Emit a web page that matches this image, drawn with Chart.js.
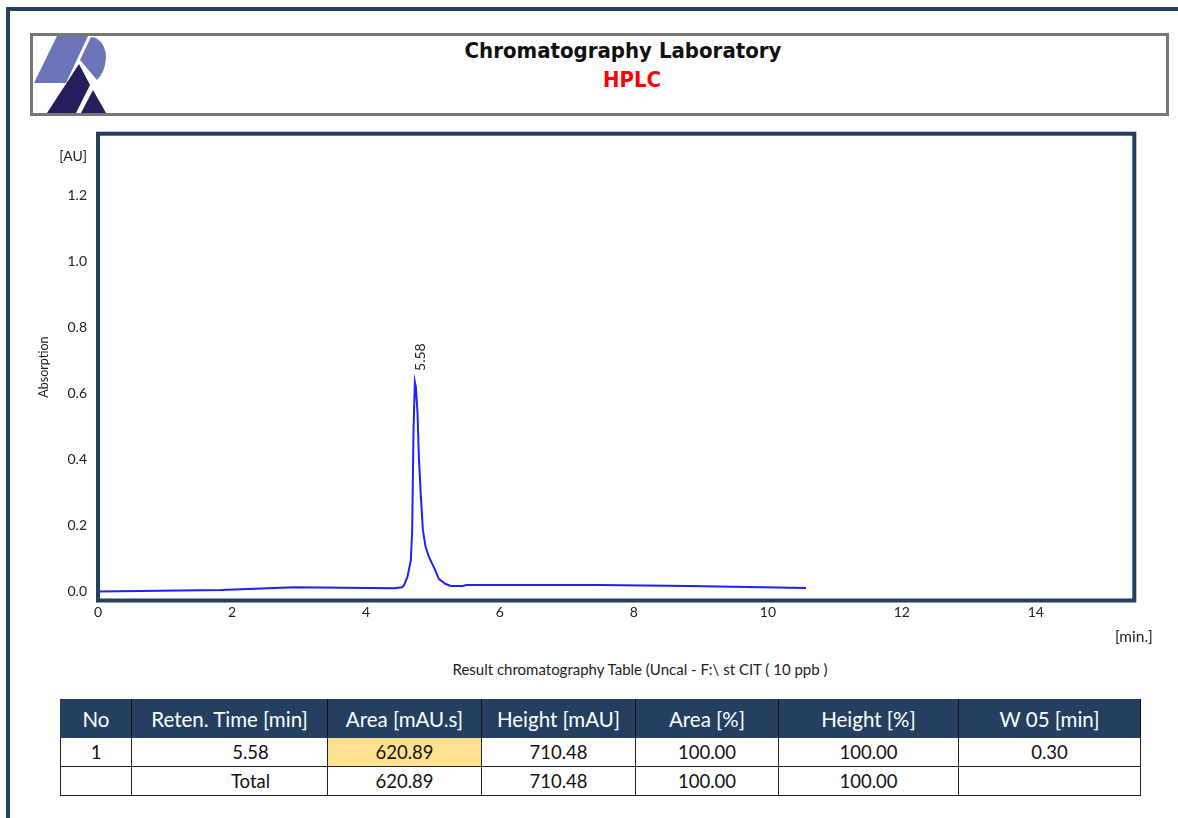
<!DOCTYPE html>
<html>
<head>
<meta charset="utf-8">
<script src="https://cdn.jsdelivr.net/npm/chart.js@4.4.1/dist/chart.umd.min.js"></script>
<style>
  html, body { margin: 0; padding: 0; background: #fff; width: 1178px; height: 818px; overflow: hidden; }
  .abs { position: absolute; }
  #outer { left: 6px; top: 7px; width: 1200px; height: 900px; border-top: 4px solid #243f60; border-left: 4px solid #243f60; }
  #head { left: 30px; top: 33px; width: 1133px; height: 77px; border: 3px solid #777; background: #fff; }
  #t1 { left: 300px; width: 646px; top: 38px; text-align: center; font: bold 22px "DejaVu Sans Condensed", "DejaVu Sans", sans-serif; font-stretch: condensed; color: #111; }
  #t2 { left: 300px; width: 664px; top: 67px; text-align: center; font: bold 22px "DejaVu Sans Condensed", "DejaVu Sans", sans-serif; font-stretch: condensed; color: #ff0000; }
  #wrap { left: 0; top: 120px; width: 1178px; height: 520px; }
  .lbl { font-family: Lato, "Open Sans", sans-serif; color: #222; }
  #au { right: 1091px; top: 147px; font-size: 14px; }
  #mins { left: 1115px; top: 627px; font-size: 15.5px; }
  #cap { left: 290px; width: 700px; top: 660px; text-align: center; font-size: 15px; }
  table { position: absolute; left: 60px; top: 699px; width: 1080px; table-layout: fixed; border-collapse: collapse; font-family: Lato, "Open Sans", sans-serif; }
  th { background: #243f60; color: #fff; font-weight: normal; font-size: 20.5px; height: 37px; border: 1px solid #243f60; border-right: 1px solid #111; padding: 0; white-space: nowrap; }
  td { font-size: 18.5px; color: #111; height: 28px; border: 1px solid #222; text-align: center; padding: 0; }
  td.hl { background: #fde18e; }
  td.rt { padding-left: 42px; }
</style>
</head>
<body>
<div id="outer" class="abs"></div>
<div id="head" class="abs"></div>
<svg class="abs" style="left:0;top:0" width="120" height="120">
  <polygon points="57,36 88,36 66,83 34,83" fill="#6b74b6"/>
  <path d="M91,37 L96,38 Q106,44 106,58 Q105,72 97,80 L80,60 Z" fill="#6b74b6"/>
  <polygon points="79,64 90,85 76,113 47,113" fill="#241f5c"/>
  <polygon points="93,90 106,113 81,113" fill="#241f5c"/>
</svg>
<div id="t1" class="abs">Chromatography Laboratory</div>
<div id="t2" class="abs">HPLC</div>
<div id="wrap" class="abs"><canvas id="c" width="1178" height="520"></canvas></div>
<div id="au" class="abs lbl">[AU]</div>
<div id="mins" class="abs lbl">[min.]</div>
<div id="cap" class="abs lbl">Result chromatography Table (Uncal - F:\ st CIT ( 10 ppb )</div>
<table id="tbl"></table>
<script>
// ---- chromatogram data ----
const timeMin = [0.00, 1.84, 2.93, 4.42, 4.54, 4.57, 4.62, 4.67, 4.69, 4.71, 4.73, 4.745, 4.77, 4.79, 4.82, 4.85, 4.89, 4.94, 5.02, 5.09, 5.19, 5.27, 5.44, 5.50, 7.48, 8.83, 10.57];
const absorbanceAU = [0.000, 0.005, 0.013, 0.010, 0.013, 0.020, 0.045, 0.095, 0.186, 0.489, 0.635, 0.620, 0.541, 0.408, 0.287, 0.186, 0.136, 0.105, 0.071, 0.038, 0.023, 0.017, 0.017, 0.020, 0.020, 0.017, 0.011];
const xTickValues = [0, 2, 4, 6, 8, 10, 12, 14];
const yTickValues = [0, 0.2, 0.4, 0.6, 0.8, 1.0, 1.2];
const peakLabels = ['5.58'];

// ---- result table data ----
const tableHeaders = ['No', 'Reten. Time [min]', 'Area [mAU.s]', 'Height [mAU]', 'Area [%]', 'Height [%]', 'W 05 [min]'];
const row1 = ['1', '5.58', '620.89', '710.48', '100.00', '100.00', '0.30'];
const rowTotal = ['', 'Total', '620.89', '710.48', '100.00', '100.00', ''];
const colWidths = [71, 196, 154, 154, 143, 180, 182];

// build table
const tbl = document.getElementById('tbl');
let html = '<colgroup>' + colWidths.map(w => `<col style="width:${w}px">`).join('') + '</colgroup>';
html += '<tr>' + tableHeaders.map(h => `<th>${h}</th>`).join('') + '</tr>';
html += '<tr>' + row1.map((v, i) => `<td class="${i === 2 ? 'hl' : ''}${i === 1 ? ' rt' : ''}">${v}</td>`).join('') + '</tr>';
html += '<tr>' + rowTotal.map((v, i) => `<td class="${i === 1 ? 'rt' : ''}">${v}</td>`).join('') + '</tr>';
tbl.innerHTML = html;

const points = timeMin.map((t, i) => ({ x: t, y: absorbanceAU[i] }));

const framePlugin = {
  id: 'frame',
  afterDraw(chart) {
    const { ctx, chartArea: a } = chart;
    ctx.save();
    ctx.strokeStyle = '#243f60';
    ctx.lineWidth = 4;
    ctx.strokeRect(a.left, a.top, a.right - a.left, a.bottom - a.top);
    // peak label
    const xs = chart.scales.x, ys = chart.scales.y;
    let mi = 0;
    absorbanceAU.forEach((v, i) => { if (v > absorbanceAU[mi]) mi = i; });
    const px = xs.getPixelForValue(timeMin[mi]);
    const py = ys.getPixelForValue(absorbanceAU[mi]);
    ctx.translate(px + 6, py - 11);
    ctx.rotate(-Math.PI / 2);
    ctx.fillStyle = '#222';
    ctx.font = '14px Lato, "Open Sans", sans-serif';
    ctx.textAlign = 'left';
    ctx.textBaseline = 'middle';
    ctx.fillText(peakLabels[0], 0, 0);
    ctx.restore();
  }
};

new Chart(document.getElementById('c'), {
  type: 'line',
  data: {
    datasets: [{
      data: points,
      borderColor: '#1f1fff',
      borderWidth: 2,
      pointRadius: 0,
      tension: 0,
      fill: false
    }]
  },
  options: {
    responsive: false,
    animation: false,
    events: [],
    layout: { padding: { top: 13.7, right: 43.7, left: 0, bottom: 0 } },
    plugins: { legend: { display: false }, tooltip: { enabled: false } },
    scales: {
      x: {
        type: 'linear',
        min: 0,
        max: 15.47,
        grid: { display: false, drawTicks: false },
        border: { display: false },
        afterBuildTicks: s => { s.ticks = xTickValues.map(v => ({ value: v })); },
        afterFit: s => { s.height = 39.5; s.paddingLeft = 0; s.paddingRight = 0; },
        ticks: { padding: 3.5, color: '#222', font: { family: 'Lato', size: 14 }, maxRotation: 0, autoSkip: false, callback: v => String(v) }
      },
      y: {
        type: 'linear',
        min: -0.027,
        max: 1.387,
        grid: { display: false, drawTicks: false },
        border: { display: false },
        afterBuildTicks: s => { s.ticks = yTickValues.map(v => ({ value: v })); },
        afterFit: s => { s.width = 98; s.paddingTop = 0; s.paddingBottom = 0; },
        ticks: { padding: 11, color: '#222', font: { family: 'Lato', size: 14 }, autoSkip: false, callback: v => Number(v).toFixed(1) },
        title: { display: true, text: 'Absorption', color: '#222', font: { family: 'Lato', size: 12.5 }, padding: { top: 36, bottom: 0 } }
      }
    }
  },
  plugins: [framePlugin]
});
</script>
</body>
</html>
